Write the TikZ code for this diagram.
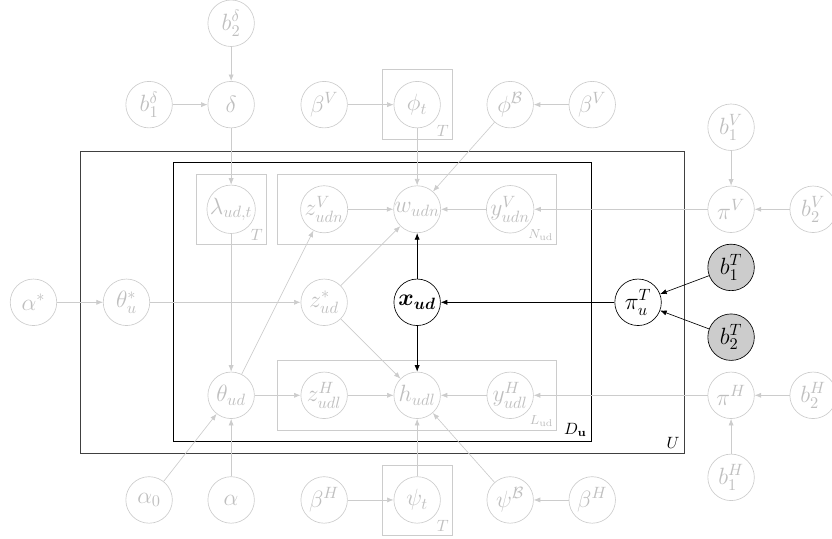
\documentclass[tikz,border=0pt]{standalone}
\usepackage{amsmath}
\usepackage{amssymb}
\usepackage{bm}
\usepackage{tikz}
\usetikzlibrary{positioning,arrows.meta}

\begin{document}
\begin{tikzpicture}[
    latent/.style={circle, draw=black!20, text=black!25, minimum size=1cm, inner sep=0pt, font=\Large},
    active/.style={circle, draw=black, minimum size=1cm, inner sep=0pt, fill=white, font=\Large},
    observed/.style={active, fill=black!20},
    plate/.style={rectangle, draw=black!20, inner sep=0pt},
    frame/.style={rectangle, draw=black, inner sep=0pt},
    edge/.style={-{Latex[length=1.4mm,width=1.1mm]}, draw=black!20},
    link/.style={-{Latex[length=1.4mm,width=1.1mm]}, draw=black},
    platelabel/.style={text=black!25, font=\normalsize, anchor=south east, inner sep=2pt}
]
\useasboundingbox (0.03,0) rectangle (17.92,-11.57);

% Frames U and D_u
\node[frame, draw=black!75, minimum width=13cm, minimum height=6.5cm] (uframe) at (8.25,-6.5) {};
\node[frame, minimum width=9cm, minimum height=6cm] (dframe) at (8.25,-6.5) {};
\node[anchor=south east, inner sep=3pt] at (uframe.south east) {$U$};
\node[anchor=south east, inner sep=3pt] at (dframe.south east) {$D_{\mathbf{u}}$};

% Top row
\node[latent] (bdtwo) at (5,-0.5) {$b_2^\delta$};
\node[latent] (delta) at (5,-2.25) {$\delta$};
\node[latent, left=0.75cm of delta] (bdone) {$b_1^\delta$};
\node[latent] (betavl) at (7,-2.25) {$\beta^V$};
\node[latent] (phit) at (9,-2.25) {$\phi_t$};
\node[latent] (phib) at (11,-2.25) {$\phi^{\mathcal{B}}$};
\node[latent, right=0.75cm of phib] (betavr) {$\beta^V$};
\node[plate, minimum width=1.5cm, minimum height=1.5cm] (phiplate) at (phit) {};
\node[platelabel] at (phiplate.south east) {$T$};

% Words (V)
\node[latent] (lambda) at (5,-4.5) {$\lambda_{ud,t}$};
\node[latent] (zv) at (7,-4.5) {$z_{udn}^V$};
\node[latent] (w) at (9,-4.5) {$w_{udn}$};
\node[latent] (yv) at (11,-4.5) {$y_{udn}^V$};
\node[latent] (piv) at (15.75,-4.5) {$\pi^V$};
\node[latent, above=0.75cm of piv] (bvone) {$b_1^V$};
\node[latent, right=0.75cm of piv] (bvtwo) {$b_2^V$};
\node[plate, minimum width=1.5cm, minimum height=1.5cm] (lamplate) at (lambda) {};
\node[platelabel] at (lamplate.south east) {$T$};
\node[plate, minimum width=6cm, minimum height=1.5cm] (nplate) at (w) {};
\node[platelabel, font=\footnotesize] at (nplate.south east) {$N_{\mathrm{ud}}$};

% Middle row
\node[latent] (alphastar) at (0.75,-6.5) {$\alpha^*$};
\node[latent] (thetastar) at (2.75,-6.5) {$\theta_u^*$};
\node[latent] (zstar) at (7,-6.5) {$z_{ud}^*$};
\node[active] (xud) at (9,-6.5) {$\bm{x_{ud}}$};
\node[active] (pit) at (13.75,-6.5) {$\pi_u^T$};
\node[observed] (btone) at (15.75,-5.75) {$b_1^T$};
\node[observed] (bttwo) at (15.75,-7.25) {$b_2^T$};

% Tags (H)
\node[latent] (theta) at (5,-8.5) {$\theta_{ud}$};
\node[latent] (zh) at (7,-8.5) {$z_{udl}^H$};
\node[latent] (h) at (9,-8.5) {$h_{udl}$};
\node[latent] (yh) at (11,-8.5) {$y_{udl}^H$};
\node[latent] (pih) at (15.75,-8.5) {$\pi^H$};
\node[latent, below=0.75cm of pih] (bhone) {$b_1^H$};
\node[latent, right=0.75cm of pih] (bhtwo) {$b_2^H$};
\node[plate, minimum width=6cm, minimum height=1.5cm] (lplate) at (h) {};
\node[platelabel, font=\footnotesize] at (lplate.south east) {$L_{\mathrm{ud}}$};

% Bottom row
\node[latent] (alpha) at (5,-10.75) {$\alpha$};
\node[latent, left=0.75cm of alpha] (alphazero) {$\alpha_0$};
\node[latent] (betahl) at (7,-10.75) {$\beta^H$};
\node[latent] (psit) at (9,-10.75) {$\psi_t$};
\node[latent] (psib) at (11,-10.75) {$\psi^{\mathcal{B}}$};
\node[latent, right=0.75cm of psib] (betahr) {$\beta^H$};
\node[plate, minimum width=1.5cm, minimum height=1.5cm] (psiplate) at (psit) {};
\node[platelabel] at (psiplate.south east) {$T$};

% Faded edges
\draw[edge] (bdtwo) -- (delta);
\draw[edge] (bdone) -- (delta);
\draw[edge] (delta) -- (lambda);
\draw[edge] (betavl) -- (phit);
\draw[edge] (betavr) -- (phib);
\draw[edge] (phit) -- (w);
\draw[edge] (phib) -- (w);
\draw[edge] (zv) -- (w);
\draw[edge] (yv) -- (w);
\draw[edge] (piv) -- (yv);
\draw[edge] (bvone) -- (piv);
\draw[edge] (bvtwo) -- (piv);
\draw[edge] (alphastar) -- (thetastar);
\draw[edge] (thetastar) -- (zstar);
\draw[edge] (zstar) -- (w);
\draw[edge] (zstar) -- (h);
\draw[edge] (lambda) -- (theta);
\draw[edge] (theta) -- (zv);
\draw[edge] (theta) -- (zh);
\draw[edge] (zh) -- (h);
\draw[edge] (yh) -- (h);
\draw[edge] (pih) -- (yh);
\draw[edge] (bhone) -- (pih);
\draw[edge] (bhtwo) -- (pih);
\draw[edge] (alphazero) -- (theta);
\draw[edge] (alpha) -- (theta);
\draw[edge] (betahl) -- (psit);
\draw[edge] (betahr) -- (psib);
\draw[edge] (psit) -- (h);
\draw[edge] (psib) -- (h);

% Active edges
\draw[link] (xud) -- (w);
\draw[link] (xud) -- (h);
\draw[link] (pit) -- (xud);
\draw[link] (btone) -- (pit);
\draw[link] (bttwo) -- (pit);

\end{tikzpicture}
\end{document}
